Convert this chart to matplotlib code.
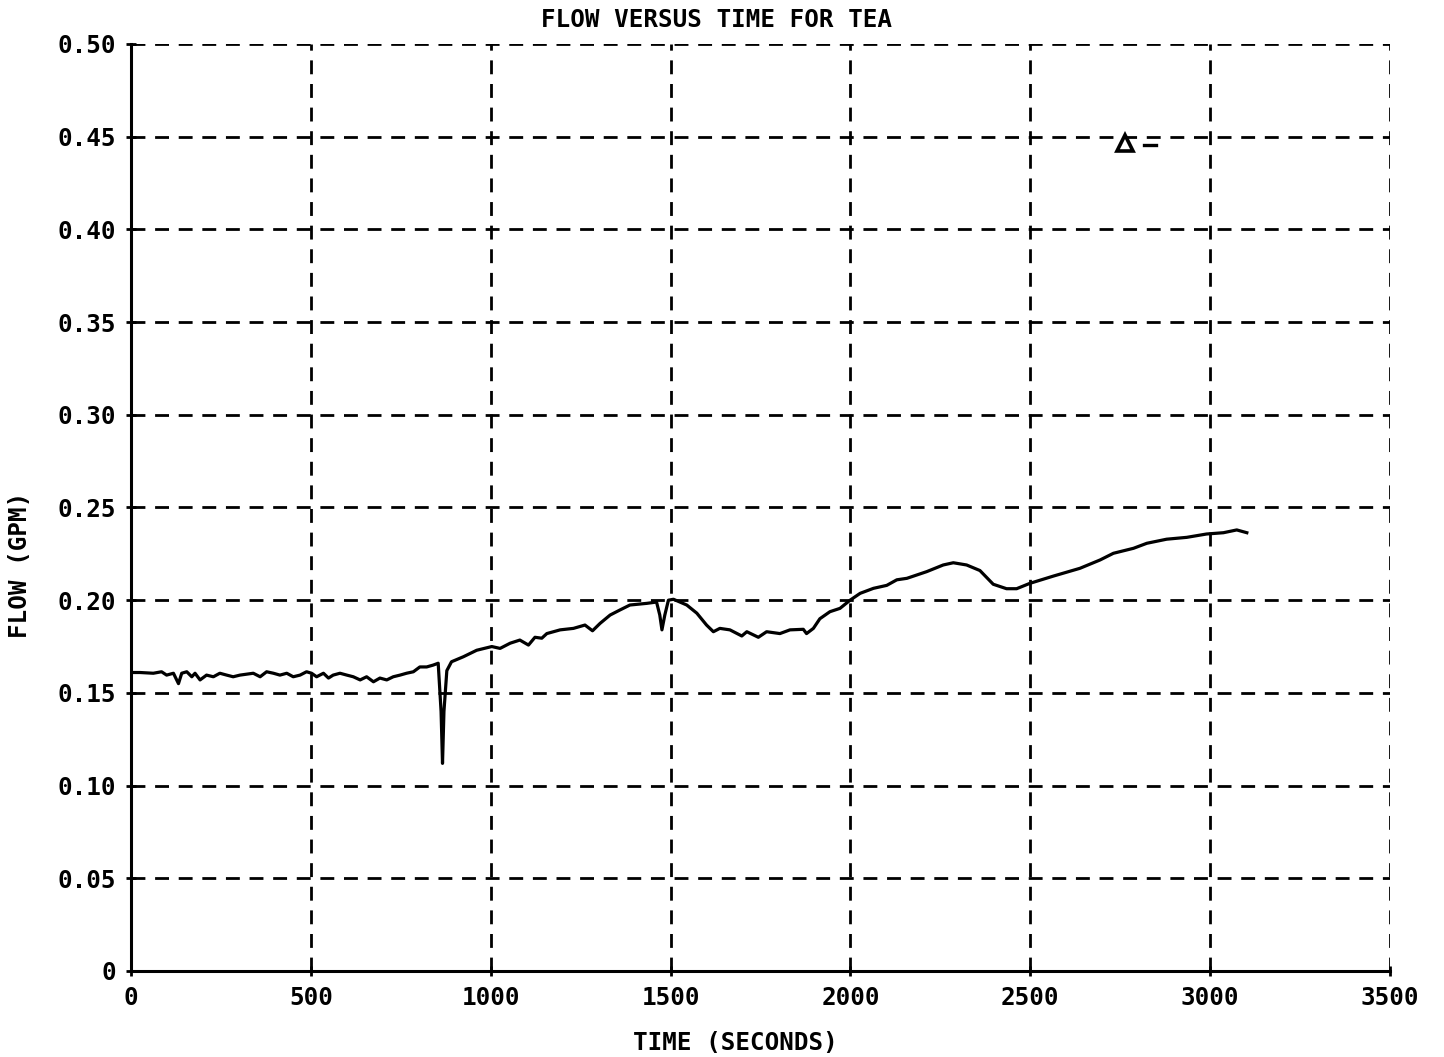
import matplotlib
matplotlib.use("Agg")
import matplotlib.pyplot as plt

time_s = [0, 25, 62, 85, 99, 118, 132, 141, 155, 169, 178, 192, 210, 229, 247, 266, 284, 303,
          340, 359, 377, 396, 414, 433, 451, 470, 488, 502, 516, 535, 549, 562, 581, 600, 618,
          637, 655, 674, 692, 711, 729, 748, 766, 785, 803, 822, 840, 854, 862, 866, 870, 878,
          891, 924, 961, 1003, 1026, 1054, 1081, 1105, 1123, 1142, 1156, 1193, 1230, 1262,
          1283, 1304, 1332, 1359, 1387, 1434, 1461, 1470, 1476, 1484, 1494, 1508, 1526, 1545,
          1573, 1600, 1619, 1637, 1665, 1698, 1712, 1744, 1767, 1804, 1832, 1869, 1878, 1897,
          1915, 1943, 1971, 1999, 2027, 2064, 2101, 2129, 2157, 2212, 2258, 2286, 2323, 2360,
          2397, 2434, 2462, 2499, 2564, 2638, 2694, 2731, 2787, 2824, 2879, 2935, 2990, 3037,
          3074, 3102]
flow_gpm = [0.161, 0.161, 0.1606, 0.1614, 0.1596, 0.1606, 0.155, 0.1606, 0.1614, 0.1587, 0.1606,
            0.157, 0.1596, 0.1587, 0.1606, 0.1596, 0.1587, 0.1596, 0.1606, 0.1587, 0.1614,
            0.1606, 0.1596, 0.1606, 0.1587, 0.1596, 0.1614, 0.1606, 0.1587, 0.1606, 0.158,
            0.1596, 0.1606, 0.1596, 0.1587, 0.157, 0.1587, 0.156, 0.158, 0.157, 0.1587, 0.1596,
            0.1606, 0.1614, 0.164, 0.164, 0.165, 0.166, 0.14, 0.112, 0.14, 0.162, 0.1668,
            0.1695, 0.173, 0.175, 0.174, 0.1768, 0.1785, 0.1758, 0.180, 0.1795, 0.182, 0.184,
            0.1848, 0.1866, 0.1835, 0.1875, 0.192, 0.1947, 0.1974, 0.1983, 0.199, 0.192, 0.184,
            0.192, 0.200, 0.2005, 0.199, 0.1974, 0.193, 0.1866, 0.183, 0.1848, 0.184, 0.1807,
            0.183, 0.180, 0.183, 0.182, 0.184, 0.1843, 0.182, 0.1848, 0.190, 0.1938, 0.1956,
            0.200, 0.2037, 0.2064, 0.208, 0.211, 0.2118, 0.2154, 0.219, 0.2202, 0.219, 0.216,
            0.2086, 0.2062, 0.2062, 0.2091, 0.2130, 0.2172, 0.2217, 0.2253, 0.228, 0.2307,
            0.2329, 0.2339, 0.2357, 0.2364, 0.2379, 0.2364]

x_ticks = [0, 500, 1000, 1500, 2000, 2500, 3000, 3500]
x_tick_labels = ["0", "500", "1000", "1500", "2000", "2500", "3000", "3500"]
y_ticks = [0, 0.05, 0.10, 0.15, 0.20, 0.25, 0.30, 0.35, 0.40, 0.45, 0.50]
y_tick_labels = ["0", "0.05", "0.10", "0.15", "0.20", "0.25", "0.30", "0.35", "0.40", "0.45", "0.50"]

marker_t = [2763]
marker_f = [0.4466]

FONT = "DejaVu Sans Mono"
fs = 17.5

fig = plt.figure(figsize=(14.44, 10.57), dpi=100)
ax = fig.add_axes([131 / 1444, 1 - 971 / 1057, (1390 - 131) / 1444, (971 - 44) / 1057])

ax.plot(time_s, flow_gpm, color="black", lw=2.3, solid_joinstyle="round")
ax.plot(marker_t, marker_f, marker="^", markersize=11, markerfacecolor="white",
        markeredgecolor="black", markeredgewidth=2.6, linestyle="none")
ax.plot([2815, 2850], [0.4457, 0.4457], color="black", lw=2.4)

ax.set_xlim(0, 3500)
ax.set_ylim(0, 0.50)
ax.set_xticks(x_ticks)
ax.set_xticklabels(x_tick_labels)
ax.set_yticks(y_ticks)
ax.set_yticklabels(y_tick_labels)

ax.grid(True, color="black", lw=2.0, linestyle=(0, (5, 3.5)))
ax.set_axisbelow(True)

for s in ["top", "right"]:
    ax.spines[s].set_visible(False)
for s in ["left", "bottom"]:
    ax.spines[s].set_linewidth(2.2)
    ax.spines[s].set_color("black")

ax.tick_params(direction="inout", length=7, width=2, color="black", pad=7)
for lab in ax.get_xticklabels() + ax.get_yticklabels():
    lab.set_fontfamily(FONT)
    lab.set_fontweight("bold")
    lab.set_fontsize(fs)

ax.text(0.465, 1.026, "FLOW VERSUS TIME FOR TEA", transform=ax.transAxes,
        ha="center", va="center", fontfamily=FONT, fontweight="bold", fontsize=fs)
ax.set_xlabel("TIME (SECONDS)", fontfamily=FONT, fontweight="bold", fontsize=fs)
ax.xaxis.set_label_coords(0.48, -0.065)
ax.set_ylabel("FLOW (GPM)", fontfamily=FONT, fontweight="bold", fontsize=fs)
ax.yaxis.set_label_coords(-0.0786, 0.438)

fig.savefig("out.png", dpi=100)
